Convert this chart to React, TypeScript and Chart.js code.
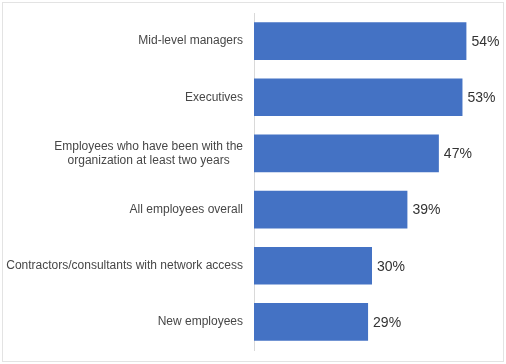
import React, { useEffect, useRef } from "react";
import { Chart, registerables } from "chart.js";

Chart.register(...registerables);

const categories: string[][] = [
  ["Mid-level managers"],
  ["Executives"],
  ["Employees who have been with the", "organization at least two years"],
  ["All employees overall"],
  ["Contractors/consultants with network access"],
  ["New employees"],
];
const values: number[] = [54, 53, 47, 39, 30, 29];

const BAR_COLOR = "#4472C4";
const LABEL_FONT = "12px 'Liberation Sans', Arial, sans-serif";
const VALUE_FONT = "14px 'Liberation Sans', Arial, sans-serif";

const labelPlugin = {
  id: "customLabels",
  afterDraw(chart: any) {
    const ctx = chart.ctx;
    const yScale = chart.scales.y;
    ctx.save();
    // category labels
    ctx.font = LABEL_FONT;
    ctx.fillStyle = "#474747";
    ctx.textBaseline = "middle";
    ctx.textAlign = "center";
    const rightEdge = chart.chartArea.left - 11;
    const lineH = 14.3;
    categories.forEach((lines, i) => {
      const yc = yScale.getPixelForTick(i);
      const maxW = Math.max(...lines.map((l) => ctx.measureText(l).width));
      const xc = rightEdge - maxW / 2;
      const start = yc - ((lines.length - 1) * lineH) / 2;
      lines.forEach((l, j) => ctx.fillText(l, xc, start + j * lineH));
    });
    // value labels
    ctx.font = VALUE_FONT;
    ctx.fillStyle = "#333333";
    ctx.textAlign = "left";
    const meta = chart.getDatasetMeta(0);
    meta.data.forEach((bar: any, i: number) => {
      ctx.fillText(values[i] + "%", bar.x + 5, bar.y + 1);
    });
    ctx.restore();
  },
};

export default function App() {
  const ref = useRef<HTMLCanvasElement>(null);
  useEffect(() => {
    document.body.style.margin = "0";
    const chart = new Chart(ref.current!, {
      type: "bar",
      data: {
        labels: categories.map((c) => c.join(" ")),
        datasets: [
          {
            data: values,
            backgroundColor: BAR_COLOR,
            barPercentage: 0.67,
            categoryPercentage: 1,
          },
        ],
      },
      options: {
        indexAxis: "y",
        animation: false,
        responsive: true,
        maintainAspectRatio: false,
        layout: { padding: { top: 13, bottom: 14, left: 0, right: 16 } },
        plugins: { legend: { display: false }, tooltip: { enabled: false } },
        scales: {
          x: { display: false, min: 0, max: 60 },
          y: {
            ticks: { display: false },
            grid: { display: false },
            border: { display: true, color: "#d9d9d9", width: 1 },
            afterFit: (scale: any) => {
              scale.width = 254;
            },
          },
        },
      },
      plugins: [labelPlugin],
    });
    return () => chart.destroy();
  }, []);
  return (
    <div style={{ position: "relative", width: 506, height: 364 }}>
      <div
        style={{
          position: "absolute",
          left: 2,
          top: 2,
          width: 500,
          height: 358,
          border: "1px solid #e3e3e3",
        }}
      />
      <canvas ref={ref} style={{ position: "absolute", left: 0, top: 0 }} />
    </div>
  );
}
